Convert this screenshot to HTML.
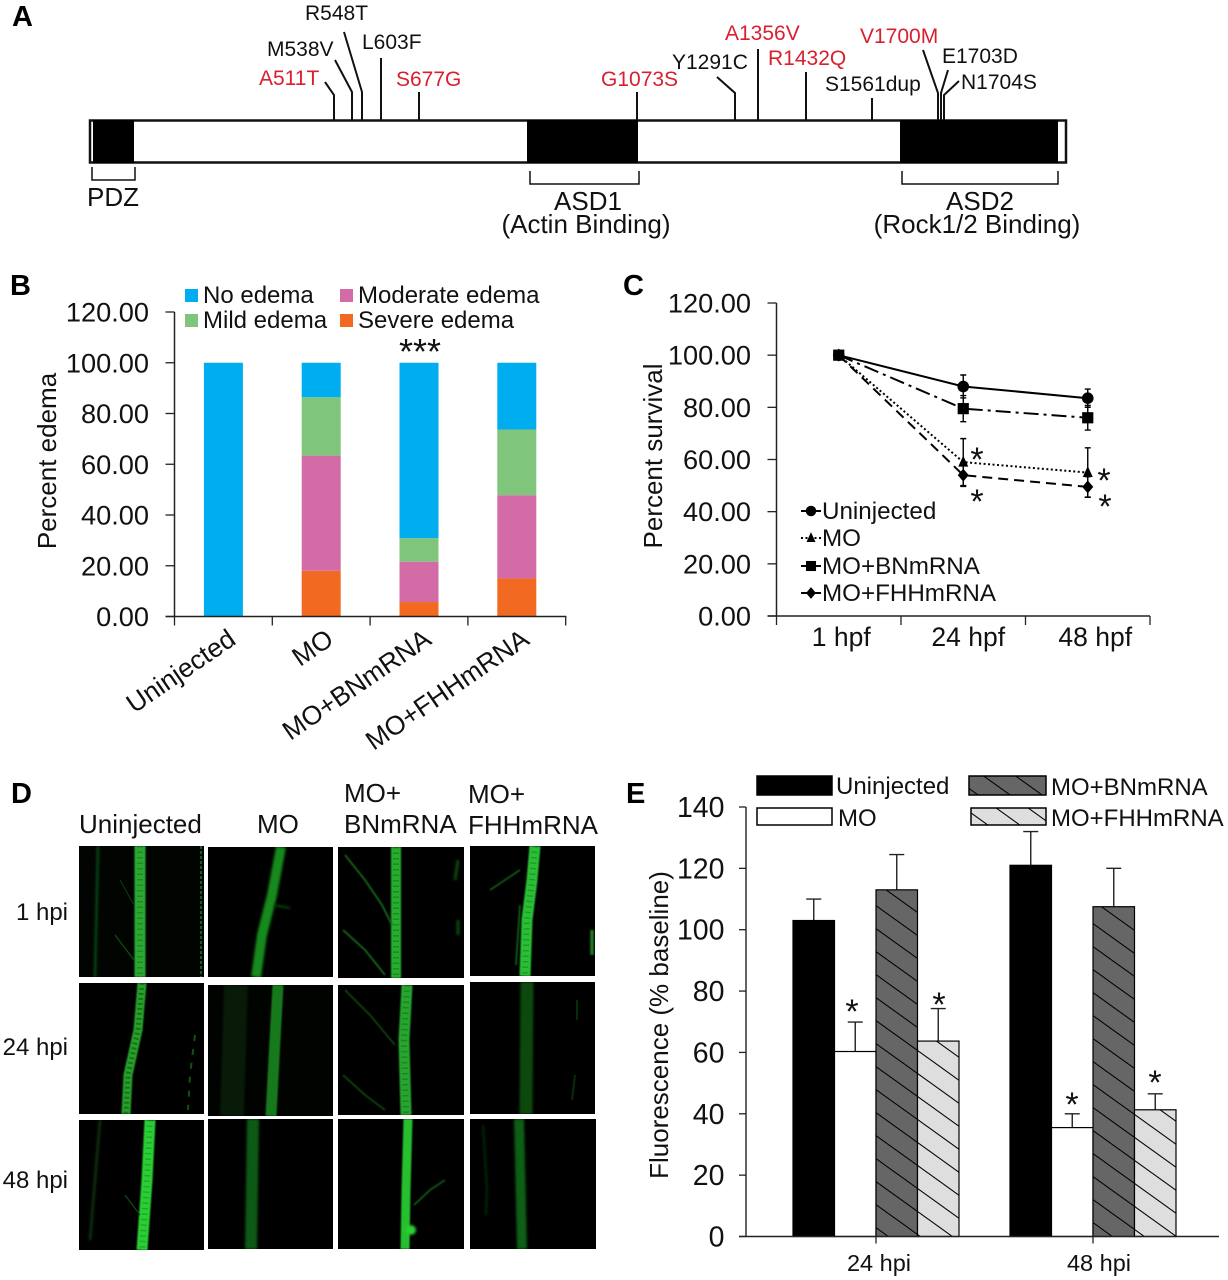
<!DOCTYPE html>
<html lang="en">
<head>
<meta charset="utf-8">
<title>Multi-panel figure: protein domains, edema, survival, fluorescence</title>
<style>
html,body{margin:0;padding:0;background:#fff;width:1228px;height:1280px;overflow:hidden}
svg{display:block}
text{font-family:"Liberation Sans",Arial,sans-serif;fill:#111}
.red{fill:#d8202f}
.hd{font-weight:bold;font-size:29px;fill:#000}
.mut{font-size:21px}
.dom{font-size:26px;text-anchor:middle}
.dl{font-size:26px}
.rl{font-size:24px;text-anchor:end}
</style>
</head>
<body>
<svg id="fig" xmlns="http://www.w3.org/2000/svg" width="1228" height="1280" viewBox="0 0 1228 1280">
<defs>
<pattern id="hatch-dark" patternUnits="userSpaceOnUse" width="32" height="23"><rect width="32" height="23" fill="#666"/><path d="M-8 -5.75L40 28.75M-8 17.25L24 40.25M8 -17.25L40 5.75" stroke="#000" stroke-width="1.1"/></pattern>
<pattern id="hatch-light" patternUnits="userSpaceOnUse" width="32" height="23"><rect width="32" height="23" fill="#dedede"/><path d="M-8 -5.75L40 28.75M-8 17.25L24 40.25M8 -17.25L40 5.75" stroke="#000" stroke-width="1.1"/></pattern>
<filter id="b1" filterUnits="userSpaceOnUse" x="0" y="0" width="1228" height="1280"><feGaussianBlur stdDeviation="1.4"/></filter>
<filter id="b2" filterUnits="userSpaceOnUse" x="0" y="0" width="1228" height="1280"><feGaussianBlur stdDeviation="0.7"/></filter>
</defs>
<rect width="1228" height="1280" fill="#fff"/>

<!-- Panel A -->
<g id="panel-a">
<text class="hd" x="12" y="26">A</text>
<rect x="90" y="120.5" width="976" height="42" fill="#fff" stroke="#111" stroke-width="2.5"/>
<rect x="93" y="120" width="41" height="43" fill="#000"/>
<rect x="527" y="120" width="111" height="43" fill="#000"/>
<rect x="900" y="120" width="158" height="43" fill="#000"/>
<g fill="none" stroke="#111" stroke-width="2">
<path d="M325 82L334 95V120"/><path d="M335 60L352 92V120"/><path d="M344 32L362 92V120"/><path d="M381 58V120"/><path d="M419 92V120"/>
<path d="M637 92V120"/><path d="M717 77L735 93V120"/><path d="M758 49V120"/><path d="M806 72V120"/><path d="M872 98V120"/>
<path d="M923 50L938 93V120"/><path d="M948 70L941 93V120"/><path d="M959 81L944 95V120"/>
</g>
<g class="mut">
<text class="red" x="259" y="85">A511T</text>
<text x="267" y="56">M538V</text>
<text x="305" y="20">R548T</text>
<text x="362" y="49">L603F</text>
<text class="red" x="396" y="86">S677G</text>
<text class="red" x="601" y="86">G1073S</text>
<text x="672" y="69">Y1291C</text>
<text class="red" x="725" y="40">A1356V</text>
<text class="red" x="768" y="65">R1432Q</text>
<text x="825" y="91">S1561dup</text>
<text class="red" x="860" y="43">V1700M</text>
<text x="942" y="63">E1703D</text>
<text x="961" y="89">N1704S</text>
</g>
<g fill="none" stroke="#111" stroke-width="1.5">
<path d="M92 167V180H135V167"/><path d="M530 171V184H639V171"/><path d="M902 171V184H1058V171"/>
</g>
<text class="dom" x="113" y="206">PDZ</text>
<text class="dom" x="588" y="210">ASD1</text>
<text class="dom" x="586" y="233">(Actin Binding)</text>
<text class="dom" x="980" y="210">ASD2</text>
<text class="dom" x="977" y="233">(Rock1/2 Binding)</text>
</g>

<!-- Panel B -->
<g id="panel-b">
<text class="hd" x="10" y="295">B</text>
</g>
<!-- Panel C -->
<g id="panel-c">
<text class="hd" x="623" y="295">C</text>
</g>

<!-- Panel D -->
<g id="panel-d">
<text class="hd" x="11" y="803">D</text>
<text class="dl" x="79" y="833">Uninjected</text>
<text class="dl" x="257" y="833">MO</text>
<text class="dl" x="344" y="802">MO+</text>
<text class="dl" x="344" y="833">BNmRNA</text>
<text class="dl" x="468" y="803">MO+</text>
<text class="dl" x="468" y="834">FHHmRNA</text>
<text class="rl" x="68" y="920">1 hpi</text>
<text class="rl" x="68" y="1055">24 hpi</text>
<text class="rl" x="68" y="1188">48 hpi</text>

<g><svg x="79" y="846" width="125" height="131" viewBox="79 846 125 131">
<rect x="79" y="846" width="125" height="131" fill="#020402"/>
<path d="M140 846L140 977" stroke="#2aa830" stroke-width="11" filter="url(#b2)" fill="none"/>
<path d="M140 846L140 977" stroke="#000" stroke-width="6" stroke-dasharray="1.5 4" opacity=".18" fill="none"/>
<path d="M98 846L95 977" stroke="#0f5c12" stroke-width="2" filter="url(#b1)" fill="none"/>
<path d="M201 846V977" stroke="#14601a" stroke-width="2" stroke-dasharray="3 2"/>
<path d="M115 935L134 960" stroke="#0e4f10" stroke-width="1.2" fill="none"/><path d="M120 880L134 905" stroke="#0b3f0c" stroke-width="1" fill="none"/>
</svg></g>
<g><svg x="208" y="847" width="125" height="130" viewBox="208 847 125 130">
<rect x="208" y="847" width="125" height="130" fill="#000"/>
<path d="M281 847L272 895L262 935L256 977" stroke="#168a1a" stroke-width="10" filter="url(#b1)" fill="none"/>
<path d="M274 905L290 908" stroke="#0d4a10" stroke-width="2" filter="url(#b1)" fill="none"/>
</svg></g>
<g><svg x="338" y="847" width="126" height="131" viewBox="338 847 126 131">
<rect x="338" y="847" width="126" height="131" fill="#000"/>
<path d="M396 847L396 978" stroke="#28ae2e" stroke-width="10" filter="url(#b2)" fill="none"/>
<path d="M396 847L396 978" stroke="#000" stroke-width="6" stroke-dasharray="1.5 4" opacity=".2" fill="none"/>
<path d="M345 855L365 880L382 905L392 925M343 930L365 950L385 975" stroke="#146a18" stroke-width="1.8" filter="url(#b2)" fill="none"/>
<path d="M458 860L455 880M458 920V935" stroke="#0e4c10" stroke-width="3" filter="url(#b1)" fill="none"/>
</svg></g>
<g><svg x="470" y="846" width="125" height="130" viewBox="470 846 125 130">
<rect x="470" y="846" width="125" height="130" fill="#000"/>
<path d="M535 846L532 880L527 920L525 976" stroke="#2cc034" stroke-width="11" filter="url(#b2)" fill="none"/>
<path d="M535 846L532 880L527 920L525 976" stroke="#000" stroke-width="6" stroke-dasharray="1.5 4" opacity=".2" fill="none"/>
<path d="M490 890L505 880L520 870M520 905L516 965" stroke="#126a16" stroke-width="1.6" filter="url(#b2)" fill="none"/>
<path d="M592 930V955" stroke="#1a7a20" stroke-width="3.5" filter="url(#b2)" fill="none"/>
</svg></g>

<g><svg x="79" y="983" width="125" height="131" viewBox="79 983 125 131">
<rect x="79" y="983" width="125" height="131" fill="#000"/>
<path d="M142 983L138 1030L128 1075L126 1114" stroke="#26a22c" stroke-width="9" filter="url(#b2)" fill="none"/>
<path d="M142 983L138 1030L128 1075L126 1114" stroke="#000" stroke-width="5" stroke-dasharray="2 3" opacity=".3" fill="none"/>
<path d="M195 1035L190 1075L188 1110" stroke="#0f5412" stroke-width="2" stroke-dasharray="6 8" fill="none"/>
</svg></g>
<g><svg x="208" y="985" width="125" height="131" viewBox="208 985 125 131">
<rect x="208" y="985" width="125" height="131" fill="#010301"/>
<path d="M236 985L232 1116" stroke="#082a0a" stroke-width="24" filter="url(#b1)" fill="none" opacity=".6"/>
<path d="M278 985L275 1040L271 1116" stroke="#167a1b" stroke-width="11" filter="url(#b2)" fill="none"/>
</svg></g>
<g><svg x="338" y="985" width="126" height="130" viewBox="338 985 126 130">
<rect x="338" y="985" width="126" height="130" fill="#000"/>
<path d="M407 985L404 1040L406 1115" stroke="#28a62e" stroke-width="11" filter="url(#b2)" fill="none"/>
<path d="M407 985L404 1040L406 1115" stroke="#000" stroke-width="6" stroke-dasharray="1.5 4" opacity=".2" fill="none"/>
<path d="M345 990L370 1015L395 1045M343 1075L365 1095L385 1110" stroke="#0d4e10" stroke-width="1.6" filter="url(#b2)" fill="none"/>
</svg></g>
<g><svg x="470" y="982" width="125" height="132" viewBox="470 982 125 132">
<rect x="470" y="982" width="125" height="132" fill="#000"/>
<path d="M527 982L526 1114" stroke="#0c4810" stroke-width="13" filter="url(#b1)" fill="none"/>
<path d="M577 1000V1020M575 1075L572 1100" stroke="#072c09" stroke-width="2" fill="none"/>
</svg></g>

<g><svg x="79" y="1120" width="125" height="130" viewBox="79 1120 125 130">
<rect x="79" y="1120" width="125" height="130" fill="#000"/>
<path d="M150 1120L147 1180L142 1250" stroke="#2ccf34" stroke-width="11" filter="url(#b2)" fill="none"/>
<path d="M150 1120L147 1180L142 1250" stroke="#000" stroke-width="6" stroke-dasharray="1.5 4" opacity=".18" fill="none"/>
<path d="M100 1120L90 1240" stroke="#082d0a" stroke-width="3" filter="url(#b1)" fill="none"/>
<path d="M125 1195L140 1215" stroke="#0e4c10" stroke-width="1.2" fill="none"/>
</svg></g>
<g><svg x="208" y="1119" width="125" height="130" viewBox="208 1119 125 130">
<rect x="208" y="1119" width="125" height="130" fill="#000"/>
<path d="M253 1119L251 1249" stroke="#0f5a13" stroke-width="12" filter="url(#b1)" fill="none"/>
</svg></g>
<g><svg x="338" y="1119" width="126" height="130" viewBox="338 1119 126 130">
<rect x="338" y="1119" width="126" height="130" fill="#000"/>
<path d="M408 1119L406 1190L405 1249" stroke="#26c02e" stroke-width="9" filter="url(#b2)" fill="none"/>
<path d="M414 1205L430 1190L445 1180" stroke="#13601a" stroke-width="1.6" filter="url(#b2)" fill="none"/>
<circle cx="411" cy="1230" r="5" fill="#2ccf34" filter="url(#b1)"/>
</svg></g>
<g><svg x="470" y="1119" width="126" height="130" viewBox="470 1119 126 130">
<rect x="470" y="1119" width="126" height="130" fill="#000"/>
<path d="M519 1119L522 1249" stroke="#0f5f13" stroke-width="10" filter="url(#b1)" fill="none"/>
<path d="M483 1125L487 1190L486 1215" stroke="#082d0a" stroke-width="2" filter="url(#b1)" fill="none"/>
</svg></g>
</g>

<!-- Panel E -->
<g id="panel-e">
<text class="hd" x="626" y="803">E</text>
</g>
</svg>

<script>
// ---- Panel B data ----
const edemaCategories = ['Uninjected', 'MO', 'MO+BNmRNA', 'MO+FHHmRNA'];
const edemaSevere = [0, 18, 5.7, 15];
const edemaModerate = [0, 45.4, 15.9, 32.8];
const edemaMild = [0, 23, 9.3, 25.9];
const edemaNone = [100, 13.6, 69.1, 26.3];
const edemaTicks = [0, 20, 40, 60, 80, 100, 120];

// ---- Panel C data ----
const survivalCategories = ['1 hpf', '24 hpf', '48 hpf'];
const survivalUninjected = [100, 88, 83.5];
const survivalMO = [100, 59, 55];
const survivalBN = [100, 79.5, 76];
const survivalFHH = [100, 54, 49.5];
const survivalErrUninjected = [0, 4.4, 3.5];
const survivalErrMO = [0, 9, 9.5];
const survivalErrBN = [0, 5, 4.7];
const survivalErrFHH = [0, 4.3, 3.9];
const survivalTicks = [0, 20, 40, 60, 80, 100, 120];

// ---- Panel E data ----
const fluorCategories = ['24 hpi', '48 hpi'];
const fluorUninjected = [103, 121];
const fluorMO = [60.3, 35.5];
const fluorBN = [113, 107.5];
const fluorFHH = [63.7, 41.3];
const fluorErrUninjected = [7, 11];
const fluorErrMO = [9.6, 4.5];
const fluorErrBN = [11.5, 12.5];
const fluorErrFHH = [10.6, 5.2];
const fluorTicks = [0, 20, 40, 60, 80, 100, 120, 140];

const NS = 'http://www.w3.org/2000/svg';
function mk(tag, attrs, parent, txt) {
  const el = document.createElementNS(NS, tag);
  for (const k in attrs) el.setAttribute(k, attrs[k]);
  if (txt !== undefined) el.textContent = txt;
  parent.appendChild(el);
  return el;
}
const AXC = '#222';

/* ===== Panel B ===== */
(function () {
  const g = document.getElementById('panel-b');
  const y = v => 616.5 - v * (304.5 / 120);
  const x0 = 174.5, band = 97.8;
  const xc = i => x0 + band * (i + 0.5);
  const barW = 39;
  const stacks = [
    { name: 'severe', vals: edemaSevere, color: '#f26a21' },
    { name: 'moderate', vals: edemaModerate, color: '#d36ca6' },
    { name: 'mild', vals: edemaMild, color: '#7fc67c' },
    { name: 'none', vals: edemaNone, color: '#00aeef' }
  ];
  edemaCategories.forEach((c, i) => {
    let base = 0;
    stacks.forEach(s => {
      const v = s.vals[i];
      if (v > 0) {
        const el = mk('rect', { x: xc(i) - barW / 2, y: y(base + v), width: barW, height: y(base) - y(base + v), fill: s.color }, g);
        
        
      }
      base += v;
    });
  });
  const yAxis = mk('line', { x1: x0, x2: x0, y1: y(120), y2: y(0), stroke: AXC, 'stroke-width': 1.5 }, g);
  
  
  const xAxis = mk('line', { x1: x0 - 9, x2: x0 + band * 4 + 0.7, y1: y(0), y2: y(0), stroke: AXC, 'stroke-width': 1.5 }, g);
  
  
  edemaTicks.forEach(t => {
    const tk = mk('line', { x1: x0 - 9, x2: x0, y1: y(t), y2: y(t), stroke: AXC, 'stroke-width': 1.3 }, g);
    
    
    const lb = mk('text', { x: 149, y: y(t) + 9.5, 'text-anchor': 'end', 'font-size': 27.2 }, g, t.toFixed(2));
    
    
  });
  for (let i = 0; i <= edemaCategories.length; i++) {
    const tk = mk('line', { x1: x0 + band * i, x2: x0 + band * i, y1: y(0), y2: y(0) + 9, stroke: AXC, 'stroke-width': 1.3 }, g);
    
    
  }
  edemaCategories.forEach((c, i) => {
    const ax = xc(i) + 14, ay = 643;
    const lb = mk('text', { x: ax, y: ay, 'text-anchor': 'end', 'font-size': 26.5, transform: 'rotate(-34.5 ' + ax + ' ' + ay + ')' }, g, c);
    
    
  });
  const title = mk('text', { x: 56, y: 461, 'text-anchor': 'middle', 'font-size': 26, transform: 'rotate(-90 56 461)' }, g, 'Percent edema');
  
  
  const legend = [
    ['No edema', '#00aeef', 185, 303],
    ['Mild edema', '#7fc67c', 185, 328],
    ['Moderate edema', '#d36ca6', 340, 303],
    ['Severe edema', '#f26a21', 340, 328]
  ];
  legend.forEach(l => {
    const sw = mk('rect', { x: l[2], y: l[3] - 14, width: 13, height: 13, fill: l[1] }, g);
    
    
    const tx = mk('text', { x: l[2] + 18, y: l[3], 'font-size': 24 }, g, l[0]);
    
    
  });
  const sig = mk('text', { x: 420, y: 364, 'text-anchor': 'middle', 'font-size': 36 }, g, '***');
  
  
})();

/* ===== Panel C ===== */
(function () {
  const g = document.getElementById('panel-c');
  const y = v => 616 - v * (313 / 120);
  const x0 = 776.5, band = 124.5;
  const xc = i => x0 + band * (i + 0.5);
  function marker(kind, cx, cy, parent, s) {
    let el;
    if (kind === 'circle') el = mk('circle', { cx: cx, cy: cy, r: 5.8 * s, fill: '#000' }, parent);
    else if (kind === 'square') el = mk('rect', { x: cx - 5.6 * s, y: cy - 5.6 * s, width: 11.2 * s, height: 11.2 * s, fill: '#000' }, parent);
    else if (kind === 'diamond') el = mk('polygon', { points: [cx, cy - 6.5 * s, cx + 5.5 * s, cy, cx, cy + 6.5 * s, cx - 5.5 * s, cy].join(','), fill: '#000' }, parent);
    else el = mk('polygon', { points: [cx, cy - 6.5 * s, cx + 5 * s, cy + 4.5 * s, cx - 5 * s, cy + 4.5 * s].join(','), fill: '#000' }, parent);
    return el;
  }
  const series = [
    { name: 'FHH', vals: survivalFHH, err: survivalErrFHH, dash: '10 6', kind: 'diamond' },
    { name: 'MO', vals: survivalMO, err: survivalErrMO, dash: '2 2.5', kind: 'triangle' },
    { name: 'BN', vals: survivalBN, err: survivalErrBN, dash: '15 5 3 5', kind: 'square' },
    { name: 'Uninjected', vals: survivalUninjected, err: survivalErrUninjected, dash: 'none', kind: 'circle' }
  ];
  series.forEach(s => {
    const pts = s.vals.map((v, i) => xc(i) + ',' + y(v)).join(' ');
    const ln = mk('polyline', { points: pts, fill: 'none', stroke: '#000', 'stroke-width': 2, 'stroke-dasharray': s.dash }, g);
    
    
    s.vals.forEach((v, i) => {
      if (s.err[i] > 0) {
        const er = mk('path', { d: 'M' + (xc(i) - 3) + ' ' + y(v + s.err[i]) + 'H' + (xc(i) + 3) + 'M' + xc(i) + ' ' + y(v + s.err[i]) + 'V' + y(v - s.err[i]) + 'M' + (xc(i) - 3) + ' ' + y(v - s.err[i]) + 'H' + (xc(i) + 3), stroke: '#000', 'stroke-width': 1.4, fill: 'none' }, g);
        
        
      }
      const mr = marker(s.kind, xc(i), y(v), g, 1);
      
      
    });
  });
  const yAxis = mk('line', { x1: x0, x2: x0, y1: y(120), y2: y(0), stroke: AXC, 'stroke-width': 1.5 }, g);
  
  
  const xAxis = mk('line', { x1: x0 - 9, x2: x0 + band * 3, y1: y(0), y2: y(0), stroke: AXC, 'stroke-width': 1.5 }, g);
  
  
  survivalTicks.forEach(t => {
    const tk = mk('line', { x1: x0 - 9, x2: x0, y1: y(t), y2: y(t), stroke: AXC, 'stroke-width': 1.3 }, g);
    
    
    const lb = mk('text', { x: 751, y: y(t) + 9.5, 'text-anchor': 'end', 'font-size': 27.2 }, g, t.toFixed(2));
    
    
  });
  for (let i = 0; i <= survivalCategories.length; i++) {
    const tk = mk('line', { x1: x0 + band * i, x2: x0 + band * i, y1: y(0), y2: y(0) + 9, stroke: AXC, 'stroke-width': 1.3 }, g);
    
    
  }
  survivalCategories.forEach((c, i) => {
    const lb = mk('text', { x: xc(i) + 2.5 + 2.5 * i, y: 646, 'text-anchor': 'middle', 'font-size': 26.5 }, g, c);
    
    
  });
  const title = mk('text', { x: 662, y: 456, 'text-anchor': 'middle', 'font-size': 26, transform: 'rotate(-90 662 456)' }, g, 'Percent survival');
  
  
  const legend = [
    ['Uninjected', 'circle', 'none', 519],
    ['MO', 'triangle', '2 2.5', 546],
    ['MO+BNmRNA', 'square', 'none', 574],
    ['MO+FHHmRNA', 'diamond', 'none', 601]
  ];
  legend.forEach(l => {
    const ln = mk('line', { x1: 801, x2: 821, y1: l[3] - 8, y2: l[3] - 8, stroke: '#000', 'stroke-width': 2, 'stroke-dasharray': l[2] }, g);
    
    
    const mr = marker(l[1], 811, l[3] - 8, g, 0.9);
    
    
    const tx = mk('text', { x: 822, y: l[3], 'font-size': 24.2 }, g, l[0]);
    
    
  });
  [[977, 471], [977, 513], [1104, 492], [1105, 518]].forEach(p => {
    const st = mk('text', { x: p[0], y: p[1], 'text-anchor': 'middle', 'font-size': 34 }, g, '*');
    
    
  });
})();

/* ===== Panel E ===== */
(function () {
  const g = document.getElementById('panel-e');
  const y = v => 1236.5 - v * (429.5 / 140);
  const xg = [876, 1093];
  const bw = 41.5;
  const series = [
    { name: 'uninjected', vals: fluorUninjected, err: fluorErrUninjected, fill: '#000', off: -2 },
    { name: 'mo', vals: fluorMO, err: fluorErrMO, fill: '#fff', off: -1 },
    { name: 'bn', vals: fluorBN, err: fluorErrBN, fill: 'url(#hatch-dark)', off: 0 },
    { name: 'fhh', vals: fluorFHH, err: fluorErrFHH, fill: 'url(#hatch-light)', off: 1 }
  ];
  series.forEach(s => {
    s.vals.forEach((v, i) => {
      const bx = xg[i] + s.off * bw;
      const cx = bx + bw / 2;
      const er = mk('path', { d: 'M' + cx + ' ' + y(v) + 'V' + y(v + s.err[i]) + 'M' + (cx - 7.5) + ' ' + y(v + s.err[i]) + 'H' + (cx + 7.5), stroke: '#222', 'stroke-width': 1.4, fill: 'none' }, g);
      
      
      const br = mk('rect', { x: bx, y: y(v), width: bw, height: y(0) - y(v), fill: s.fill, stroke: '#000', 'stroke-width': 1.2 }, g);
      
      
    });
  });
  const yAxis = mk('line', { x1: 746, x2: 746, y1: y(140), y2: y(0), stroke: AXC, 'stroke-width': 1.4 }, g);
  
  
  const xAxis = mk('line', { x1: 739, x2: 1219, y1: y(0), y2: y(0), stroke: AXC, 'stroke-width': 1.4 }, g);
  
  
  fluorTicks.forEach(t => {
    const tk = mk('line', { x1: 739, x2: 746, y1: y(t), y2: y(t), stroke: AXC, 'stroke-width': 1.3 }, g);
    
    
    const lb = mk('text', { x: 724.5, y: y(t) + 10, 'text-anchor': 'end', 'font-size': 28.5 }, g, String(t));
    
    
  });
  fluorCategories.forEach((c, i) => {
    const tk = mk('line', { x1: xg[i], x2: xg[i], y1: y(0), y2: y(0) + 7, stroke: AXC, 'stroke-width': 1.3 }, g);
    
    
    const lb = mk('text', { x: xg[i] + 3 + 3 * i, y: 1271, 'text-anchor': 'middle', 'font-size': 23.5 }, g, c);
    
    
  });
  const title = mk('text', { x: 668, y: 1025, 'text-anchor': 'middle', 'font-size': 26, transform: 'rotate(-90 668 1025)' }, g, 'Fluorescence (% baseline)');
  
  
  const legend = [
    ['Uninjected', '#000', 757, 776, 75, 19, 836, 794],
    ['MO', '#fff', 757, 808, 75, 17, 838, 826],
    ['MO+BNmRNA', 'url(#hatch-dark)', 969, 776, 77, 19, 1051, 795],
    ['MO+FHHmRNA', 'url(#hatch-light)', 971, 808, 75, 17, 1051, 826]
  ];
  legend.forEach(l => {
    const sw = mk('rect', { x: l[2], y: l[3], width: l[4], height: l[5], fill: l[1], stroke: '#000', 'stroke-width': 1.5 }, g);
    
    
    const tx = mk('text', { x: l[6], y: l[7], 'font-size': 24 }, g, l[0]);
    
    
  });
  [[852, 1023], [939, 1016], [1072, 1116], [1155, 1094]].forEach(p => {
    const st = mk('text', { x: p[0], y: p[1], 'text-anchor': 'middle', 'font-size': 34 }, g, '*');
    
    
  });
})();
</script>
</body>
</html>
